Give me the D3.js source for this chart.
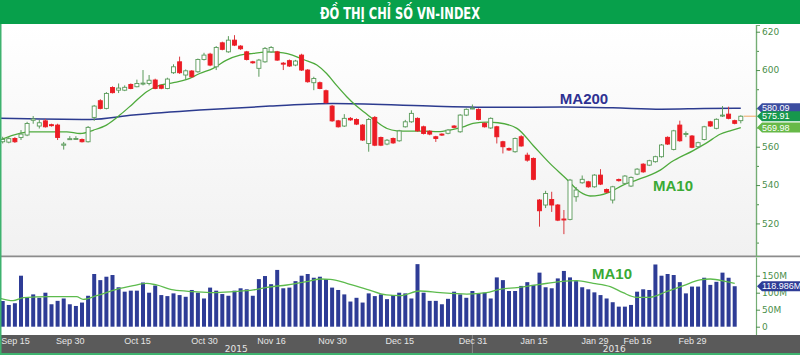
<!DOCTYPE html>
<html>
<head>
<meta charset="utf-8">
<script src="https://cdn.jsdelivr.net/npm/d3@7"></script>
<style>
  body { margin: 0; background: #fff; }
  svg { display: block; }
</style>
</head>
<body>
<script>
// daily candles, oldest first (VN-Index, Sep 2015 - Mar 2016)
var opens = [562.6, 562.4, 564.3, 564.8, 566.1, 573.8, 570.8, 573.5, 571.5, 571.3,
  560.8, 563.7, 564, 563.8, 562.6, 575.3, 584, 580, 590.9, 589.5,
  589.5, 592.5, 591.3, 592.8, 593, 594.8, 592, 590.4, 598.6, 604.3,
  597.4, 599.5, 599.1, 605.5, 608.3, 601.7, 614.2, 609.5, 615.6, 612.5,
  609.5, 604.3, 600.9, 604.3, 609.5, 609.5, 603.6, 604.9, 602.6, 607.8,
  600, 593.4, 593.4, 589.2, 581.2, 573.5, 570.8, 574.8, 574.2, 571.3,
  561.7, 575.3, 564.8, 561.4, 564.3, 563.1, 570.4, 573, 574.8, 570.4,
  568.1, 565.2, 566.6, 567, 570.8, 567.8, 576.5, 580, 579.5, 572.2,
  569.8, 570.4, 562.6, 559.1, 557.4, 565.2, 555.6, 553.9, 532.2, 529.6,
  532.5, 529.6, 522.3, 522.1, 533.9, 541.2, 541.7, 539.1, 545.2, 537.7,
  532.2, 542.9, 540.9, 539.5, 545.7, 550.9, 550.4, 552.2, 554.8, 564.9,
  558.6, 571.3, 566.6, 565.6, 560, 563.8, 573, 569.6, 576, 577,
  573.6, 573.6];
var highs = [565.2, 565, 565, 568.7, 573, 576, 574, 574.5, 572, 572,
  562.5, 565.5, 565.5, 564.3, 570.8, 581.8, 584.8, 588.5, 591.5, 593,
  592, 593, 595, 600, 597.4, 595.5, 592.5, 596, 603, 607,
  600.3, 600, 606, 609, 609, 612.5, 614.8, 617.7, 618.2, 613,
  610, 604.8, 605.8, 612, 612.5, 610, 604.2, 605.5, 605.3, 608.5,
  600.5, 596.5, 594, 589.8, 581.8, 574, 577, 575.5, 574.8, 571.8,
  575, 576, 565.3, 564, 564.8, 568.8, 574, 579, 575.3, 571,
  568.6, 565.7, 567, 569.2, 571.3, 577, 580, 582, 580, 572.7,
  575.3, 570.9, 563.1, 559.6, 564.8, 566, 556.9, 554.4, 532.7, 537,
  536.5, 530.1, 527, 543.2, 539, 545, 542.2, 545.7, 548.3, 538.2,
  539.6, 543.4, 545.2, 544.5, 548.8, 551.4, 553.2, 555.3, 561.4, 565.4,
  568.8, 573.6, 568, 566.1, 562.6, 570.9, 573.5, 574.8, 581.2, 580.9,
  574.1, 576.4];
var lows = [561.7, 561.8, 562, 563.5, 565.5, 572, 569.5, 570, 570.5, 563.5,
  558.5, 563.5, 563.8, 562.2, 562.2, 573.5, 579.5, 579.5, 587.8, 588,
  589, 590, 591, 592, 592, 590, 590, 590, 598, 598,
  595, 596, 598.6, 605, 602, 600, 610.3, 609, 612.5, 610.5,
  605, 603.3, 596.5, 603.8, 609, 604.8, 600, 601.6, 602, 599.5,
  593.4, 589.5, 590, 582.5, 573, 570, 570.3, 573.5, 571.3, 563,
  557.4, 560.3, 560.3, 560.8, 561.5, 562.6, 570, 572.5, 567.8, 566.4,
  566, 562.5, 565.6, 566.5, 569.6, 567.3, 576, 579.6, 573.8, 570,
  569.3, 561.7, 556.5, 557.8, 556.9, 560, 552.2, 542.5, 518.3, 528,
  526, 521.2, 514.4, 521.6, 531.3, 540.7, 538.6, 538.6, 540, 535.8,
  530.4, 541.8, 540.4, 539, 545.2, 546.4, 549.9, 551.7, 554.3, 560.9,
  558.1, 562.6, 565, 559.2, 559.5, 563.3, 570.3, 569.1, 575.5, 574.3,
  571.7, 572.2];
var closes = [563.8, 564.2, 562.6, 566.6, 572.1, 574.5, 572.5, 570.4, 571, 564.8,
  561.4, 564.2, 564.3, 562.6, 570.1, 581.2, 580, 587.8, 588.2, 590.6,
  591, 590.4, 593, 593.2, 594.7, 590.4, 590.5, 595.3, 601.7, 598.6,
  599.6, 596.5, 605.5, 607.8, 602.6, 611.8, 610.8, 615.6, 613, 611.1,
  605.5, 603.8, 605.2, 611.3, 611.8, 605.2, 603.3, 602.1, 604.7, 600,
  593.9, 595.6, 590.4, 583, 573.5, 570.4, 574.8, 574, 571.8, 563.5,
  574.2, 560.8, 560.8, 563.4, 562, 568.2, 573, 577.4, 568.3, 566.9,
  566.6, 564.3, 566.1, 568.7, 570.1, 576.5, 579.5, 580.2, 574.2, 570.4,
  574.8, 565.2, 560, 558.3, 564.3, 560.4, 553, 543, 526.6, 535.6,
  529.6, 521.7, 522.1, 542.6, 537.4, 543, 539.1, 545.2, 540.5, 536.3,
  539.1, 542.3, 544.7, 544, 548.3, 546.9, 552.7, 554.8, 560.9, 561.4,
  568.3, 563.1, 566.9, 559.7, 562.1, 570.4, 570.8, 574.3, 576.5, 574.8,
  572.2, 575.91];

// volume, millions of shares (no bar for the last session)
var volumes = [75.6, 64, 69, 150, 85, 95, 85, 100, 66, 76,
  83, 66, 61, 71, 91, 155, 137, 147, 152, 116,
  103, 106, 106, 130, 100, 121, 93, 90, 98, 93,
  88, 108, 100, 83, 115, 106, 96, 91, 106, 113,
  110, 91, 140, 149, 125, 167, 113, 115, 134, 150,
  155, 144, 147, 140, 115, 108, 95, 74, 85, 71,
  98, 90, 95, 81, 93, 100, 98, 83, 184, 100,
  76, 76, 66, 82, 103, 95, 85, 105, 98, 100,
  83, 145, 137, 105, 105, 120, 131, 123, 159, 116,
  113, 142, 164, 145, 134, 116, 110, 101, 93, 83,
  72, 59, 59, 64, 103, 110, 108, 183, 150, 155,
  152, 131, 98, 118, 118, 144, 123, 132, 159, 144,
  119];

// moving averages: [session index, value]
var ma10Price = [[-0.44, 563.5], [2.8, 567], [4.5, 567.8], [7.8, 567.8], [10.5, 567.8], [12.7, 566.9],
  [14.9, 568.7], [17, 571.3], [19.2, 576.5], [21.4, 582.6], [23.6, 588.7], [25.8, 592.1],
  [28, 593.4], [30.2, 595.1], [32.3, 598.2], [34.5, 600.9], [36.7, 605.2], [38.9, 607.8],
  [41.1, 608.7], [43.8, 609.5], [46, 609], [47.5, 607.8], [49.3, 605.5], [51.5, 602.6],
  [53.1, 598.2], [54.7, 592.1], [56.4, 586.1], [58, 581.2], [59.7, 577], [61.3, 573],
  [63, 569.5], [64.6, 568.3], [66.8, 568.1], [69, 568.1], [71.4, 567.9], [73.3, 568.7],
  [75.5, 570.4], [77.1, 572.2], [79.5, 572.8], [81.2, 572.5], [84.3, 569.6], [87, 560.5],
  [89.7, 551.3], [92.3, 543.6], [94.6, 536.5], [96.3, 534.3], [97.9, 534.8], [99.6, 536.5],
  [101.7, 540], [103.9, 542.6], [106.1, 545.2], [107.8, 547.8], [109.6, 552], [113.2, 558],
  [115.4, 562], [117.6, 566.5], [119.5, 568.5], [121, 569.98]];
var ma200Price = [[-0.44, 574.8], [14.3, 574.2], [21.4, 576.5], [32.3, 579.1], [43.8, 581.2],
  [54.1, 582.6], [70, 581.2], [81.5, 580.6], [92, 580.7], [100, 580.3], [108, 579.6],
  [115, 579.9], [121, 580.09]];
var ma10Volume = [[-0.44, 83.5], [1.7, 76.6], [3.4, 85.5], [7.8, 88.4], [12.1, 88.4], [13.2, 80.6],
  [15.4, 91.3], [18.7, 110], [21.4, 120.7], [23.6, 127.6], [25.2, 122.7], [28, 108],
  [31.3, 103], [34.5, 100], [37.8, 103], [41.1, 108], [43.3, 115.8], [46.6, 122.7],
  [49.8, 132.5], [52, 140.3], [53.7, 139.4], [56.4, 127.6], [59.7, 110], [62.9, 93.3],
  [65.1, 91.3], [68.4, 105], [71.7, 100], [76.1, 96], [79.3, 100], [81.5, 110],
  [84.3, 115], [88.1, 124.7], [91.4, 132.5], [94.1, 135.4], [96.8, 127.6], [99.6, 117.8],
  [101.7, 100], [103.9, 86.4], [106.1, 86.4], [108.8, 103], [111.6, 120.7], [114.3, 137.4],
  [116, 140.3], [118.7, 132.5], [120, 127.6]];

// date axis: session index of each label
var dateTicks = [2, 11, 22, 33, 44, 54, 65, 77, 87, 97, 104, 113];
var dateLabels = ["Sep 15", "Sep 30", "Oct 15", "Oct 30", "Nov 16", "Nov 30", "Dec 15",
  "Dec 31", "Jan 15", "Jan 29", "Feb 16", "Feb 29"];
var yearStart = 77; // first session shown under 2016
var years = ["2015", "2016"];

var priceTicks = [520, 540, 560, 580, 600, 620];
var priceMinor = [510, 530, 550, 570, 590, 610];
var volumeTicks = [0, 50, 100, 150];
var volumeLabels = ["0", "50M", "100M", "150M"];

var lastMA200 = 580.09, lastClose = 575.91, lastMA10 = 569.98;
var lastVolumeMA = 118.986;

var width = 800, height = 355;
var plotRight = 756;

var svg = d3.select("body").append("svg")
    .attr("width", width)
    .attr("height", height)
    .style("font-family", "'DejaVu Sans', Verdana, sans-serif");

var x = d3.scaleLinear().domain([0, 121]).range([2.7, 740.8]);
var yP = d3.scaleLinear().domain([503, 623.5]).range([256, 25]);
var yV = d3.scaleLinear().domain([0, 150]).range([326.7, 275.7]);

// title bar
svg.append("rect").attr("width", width).attr("height", 24).attr("fill", "#07a04b");
svg.append("text")
    .attr("x", 400).attr("y", 18.5)
    .attr("text-anchor", "middle")
    .attr("fill", "#fff")
    .attr("textLength", 160)
    .attr("lengthAdjust", "spacingAndGlyphs")
    .style("font-family", "'DejaVu Sans Condensed', 'Liberation Sans Narrow', sans-serif")
    .style("font-weight", "bold")
    .style("font-size", "16.5px")
    .text("ĐỒ THỊ CHỈ SỐ VN-INDEX");

// price panel background
var defs = svg.append("defs");
var grad = defs.append("linearGradient").attr("id", "bg").attr("x1", 0).attr("y1", 0).attr("x2", 0).attr("y2", 1);
grad.append("stop").attr("offset", "0%").attr("stop-color", "#ffffff");
grad.append("stop").attr("offset", "100%").attr("stop-color", "#f1f1f1");
svg.append("rect").attr("x", 0).attr("y", 25).attr("width", plotRight).attr("height", 231).attr("fill", "url(#bg)");

defs.append("clipPath").attr("id", "clipP")
  .append("rect").attr("x", 0).attr("y", 25).attr("width", plotRight).attr("height", 231);
defs.append("clipPath").attr("id", "clipV")
  .append("rect").attr("x", 0).attr("y", 258).attr("width", plotRight).attr("height", 77);

// panel separator
svg.append("rect").attr("x", 0).attr("y", 255.5).attr("width", width).attr("height", 2).attr("fill", "#8c8c8c");

// moving average lines (price)
var gP = svg.append("g").attr("clip-path", "url(#clipP)");
var lineP = d3.line().x(function (d) { return x(d[0]); }).y(function (d) { return yP(d[1]); })
    .curve(d3.curveMonotoneX);

gP.append("path").datum(ma200Price).attr("d", lineP)
    .attr("fill", "none").attr("stroke", "#2c3b8f").attr("stroke-width", 1.5);
gP.append("path").datum(ma10Price).attr("d", lineP)
    .attr("fill", "none").attr("stroke", "#4eaa3c").attr("stroke-width", 1.3);

// last close marker line
gP.append("line")
    .attr("x1", x(121) + 3).attr("x2", plotRight)
    .attr("y1", yP(lastClose)).attr("y2", yP(lastClose))
    .attr("stroke", "#f0b47a").attr("stroke-width", 1.2);

// candles
var candles = closes.map(function (c, i) {
  return { i: i, o: opens[i], h: highs[i], l: lows[i], c: c };
});
var cg = gP.selectAll(".candle").data(candles).enter().append("g").attr("class", "candle");
cg.append("line")
    .attr("x1", function (d) { return x(d.i); })
    .attr("x2", function (d) { return x(d.i); })
    .attr("y1", function (d) { return yP(d.h); })
    .attr("y2", function (d) { return yP(d.l); })
    .attr("stroke", function (d) { return d.c >= d.o ? "#5a9a5a" : "#d9383e"; })
    .attr("stroke-width", 1);
cg.append("rect")
    .attr("x", function (d) { return x(d.i) - 2; })
    .attr("width", 4)
    .attr("y", function (d) { return yP(Math.max(d.o, d.c)); })
    .attr("height", function (d) { return Math.max(1, Math.abs(yP(d.o) - yP(d.c))); })
    .attr("fill", function (d) { return d.c >= d.o ? "#ffffff" : "#ec1c24"; })
    .attr("stroke", function (d) { return d.c >= d.o ? "#5a9a5a" : "#ec1c24"; })
    .attr("stroke-width", 0.9);

// labels on the price panel
svg.append("text").attr("x", 584).attr("y", 103.5).attr("text-anchor", "middle")
    .attr("fill", "#2e3192")
    .style("font-family", "'Liberation Sans', Arial, sans-serif")
    .style("font-weight", "bold").style("font-size", "15px")
    .text("MA200");
svg.append("text").attr("x", 673).attr("y", 190.5).attr("text-anchor", "middle")
    .attr("fill", "#3aaa35")
    .style("font-family", "'Liberation Sans', Arial, sans-serif")
    .style("font-weight", "bold").style("font-size", "15px")
    .text("MA10");

// volume panel
svg.append("rect").attr("x", 0).attr("y", 257.5).attr("width", width).attr("height", 77.5).attr("fill", "#fff");
var gV = svg.append("g").attr("clip-path", "url(#clipV)");
gV.selectAll(".vol").data(volumes).enter().append("rect")
    .attr("class", "vol")
    .attr("x", function (d, i) { return x(i) - 2; })
    .attr("width", 4)
    .attr("y", function (d) { return yV(d); })
    .attr("height", function (d) { return yV(0) - yV(d); })
    .attr("fill", "#2e3c96");
var lineV = d3.line().x(function (d) { return x(d[0]); }).y(function (d) { return yV(d[1]); })
    .curve(d3.curveMonotoneX);
gV.append("path").datum(ma10Volume).attr("d", lineV)
    .attr("fill", "none").attr("stroke", "#5dbb4d").attr("stroke-width", 1.3);
svg.append("text").attr("x", 612).attr("y", 278.5).attr("text-anchor", "middle")
    .attr("fill", "#3aaa35")
    .style("font-family", "'Liberation Sans', Arial, sans-serif")
    .style("font-weight", "bold").style("font-size", "15px")
    .text("MA10");

// right axes
function styleAxis(g) {
  g.select(".domain").attr("stroke", "#74ad74").attr("stroke-width", 1.2);
  g.selectAll(".tick line").attr("stroke", "#4f8f4f");
  g.selectAll(".tick text").attr("fill", "#4b8f4b").style("font-size", "9px")
    .style("font-family", "'DejaVu Sans', Verdana, sans-serif");
}
svg.append("g").attr("transform", "translate(" + plotRight + ",0)")
    .call(d3.axisRight(yP).tickValues(priceMinor).tickSize(3).tickFormat(""))
    .call(styleAxis);
svg.append("g").attr("transform", "translate(" + plotRight + ",0)")
    .call(d3.axisRight(yP).tickValues(priceTicks).tickSize(4).tickPadding(2).tickFormat(d3.format("d")))
    .call(styleAxis);
svg.append("g").attr("transform", "translate(" + plotRight + ",0)")
    .call(d3.axisRight(yV).tickValues(volumeTicks).tickSize(4).tickPadding(2)
      .tickFormat(function (d, i) { return volumeLabels[i]; }))
    .call(styleAxis)
    .select(".domain").attr("d", "M0.5,257.5V335");

// value tags
function tag(yv, fill, label) {
  var h = 10, x0 = plotRight + 1;
  var g = svg.append("g");
  g.append("path")
      .attr("d", "M" + x0 + "," + yv + "L" + (x0 + 5) + "," + (yv - h / 2) + "L" + width + "," + (yv - h / 2) +
        "L" + width + "," + (yv + h / 2) + "L" + (x0 + 5) + "," + (yv + h / 2) + "Z")
      .attr("fill", fill);
  g.append("text").attr("x", x0 + 5).attr("y", yv + 3.2)
      .attr("fill", "#fff")
      .style("font-family", "'Liberation Sans', Arial, sans-serif")
      .style("font-size", "9px")
      .text(label);
}
tag(yP(lastMA200), "#3c4da0", d3.format(".2f")(lastMA200));
tag(yP(lastClose), "#17984d", d3.format(".2f")(lastClose));
tag(yP(lastMA10), "#67b948", d3.format(".2f")(lastMA10));
tag(yV(lastVolumeMA), "#2e3c96", d3.format(".3f")(lastVolumeMA) + "M");

// date band
svg.append("rect").attr("x", 0).attr("y", 335).attr("width", width).attr("height", 18).attr("fill", "#5a5a5a");
svg.append("rect").attr("x", 0).attr("y", 353).attr("width", width).attr("height", 2).attr("fill", "#3eb26e");
svg.append("line").attr("x1", x(yearStart)).attr("x2", x(yearStart)).attr("y1", 335).attr("y2", 353)
    .attr("stroke", "#8a8a8a");

var xAxis = d3.axisBottom(x).tickValues(dateTicks).tickSize(0).tickPadding(0)
    .tickFormat(function (d, i) { return dateLabels[i]; });
var xg = svg.append("g").attr("transform", "translate(0,335)").call(xAxis);
xg.select(".domain").remove();
xg.selectAll(".tick text").attr("y", 3).attr("fill", "#e6e6e6").style("font-size", "9px");

var yearCenters = [(0 + x(yearStart)) / 2, (x(yearStart) + plotRight) / 2];
svg.selectAll(".year").data(years).enter().append("text")
    .attr("class", "year")
    .attr("x", function (d, i) { return yearCenters[i]; })
    .attr("y", 352)
    .attr("text-anchor", "middle")
    .attr("fill", "#e6e6e6").style("font-size", "9px")
    .text(function (d) { return d; });

// left border
svg.append("rect").attr("x", 0).attr("y", 24).attr("width", 1.5).attr("height", 331).attr("fill", "#3eb26e");
</script>
</body>
</html>
